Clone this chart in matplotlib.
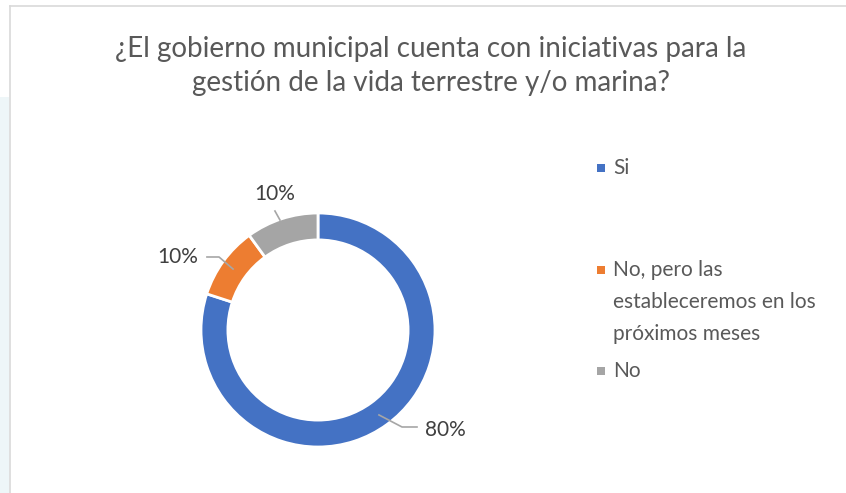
import matplotlib
matplotlib.use("Agg")
import matplotlib.pyplot as plt
from matplotlib.patches import Rectangle

# ── datos ────────────────────────────────────────────────────────────────
categories = ["Si", "No, pero las\nestableceremos en los\npróximos meses", "No"]
values = [80, 10, 10]
colors = ["#4472C4", "#ED7D31", "#A5A5A5"]
title = "¿El gobierno municipal cuenta con iniciativas para la\ngestión de la vida terrestre y/o marina?"

W, H = 846, 493
plt.rcParams["font.family"] = ["Lato", "DejaVu Sans"]
fig = plt.figure(figsize=(W / 100, H / 100), dpi=100)
fig.patch.set_facecolor("white")

# marco y franja izquierda (captura de pantalla)
fig.patches.append(Rectangle((0, 0), 9 / W, (H - 97) / H, transform=fig.transFigure,
                             fc="#EEF6F8", ec="none", zorder=0))
fig.add_artist(plt.Line2D([9.5 / W, 9.5 / W], [0, 1 - 5.5 / H], transform=fig.transFigure,
                          color="#D9D9D9", lw=1.2))
fig.add_artist(plt.Line2D([9.5 / W, 1], [1 - 5.5 / H, 1 - 5.5 / H], transform=fig.transFigure,
                          color="#D9D9D9", lw=1.2))

fig.text(431 / W, 1 - 66 / H, title, ha="center", va="center", fontsize=20,
         color="#595959", linespacing=1.42)

# ── dona ─────────────────────────────────────────────────────────────────
cx, cy, R = 318, 330, 117
ax = fig.add_axes([(cx - R) / W, (H - cy - R) / H, 2 * R / W, 2 * R / H])
wedges, _ = ax.pie(values, colors=colors, startangle=90, counterclock=False,
                   wedgeprops=dict(width=0.23, edgecolor="white", linewidth=2))
ax.set_xlim(-1, 1)
ax.set_ylim(-1, 1)
ax.set_aspect("equal")
ax.axis("off")

# etiquetas con líneas guía (coordenadas de la dona, radio = 1)
label_pos = [(1.085, -0.855), (-1.20, 0.62), (-0.37, 1.16)]
leaders = [
    [(0.521, -0.726), (0.718, -0.829), (0.846, -0.829)],
    [(-0.949, 0.624), (-0.846, 0.624), (-0.726, 0.521)],
    [(-0.368, 1.017), (-0.325, 0.94)],
]
total = sum(values)
for v, (lx, ly), pts in zip(values, label_pos, leaders):
    xs, ys = zip(*pts)
    ax.plot(xs, ys, color="#A6A6A6", lw=1.2, clip_on=False)
    ax.text(lx, ly, f"{v / total:.0%}", ha="center", va="center",
            fontsize=15, color="#404040", clip_on=False)

# ── leyenda ──────────────────────────────────────────────────────────────
legend_y = [168, 270, 371]
for cat, col, y in zip(categories, colors, legend_y):
    fig.patches.append(Rectangle((597 / W, 1 - (y + 4) / H), 8 / W, 8 / H,
                                 transform=fig.transFigure, fc=col, ec="none"))
    fig.text(613 / W, 1 - (y - 10) / H, cat, ha="left", va="top", fontsize=15,
             color="#595959", linespacing=1.74)

fig.savefig("out.png", dpi=100)
